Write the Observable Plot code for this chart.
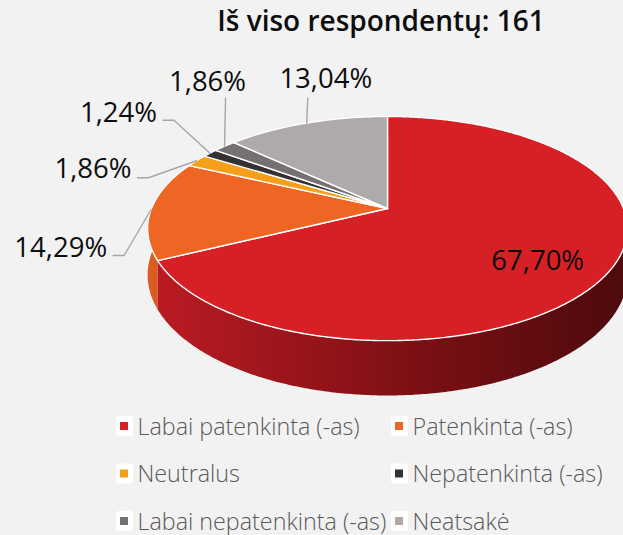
<!DOCTYPE html>
<html>
<head>
<meta charset="utf-8">
<script src="https://cdn.jsdelivr.net/npm/d3@7"></script>
<script src="https://cdn.jsdelivr.net/npm/@observablehq/plot@0.6"></script>
<style>
  html, body { margin: 0; padding: 0; background: #f2f2f2; }
  #chart svg { display: block; }
</style>
</head>
<body>
<div id="chart"></div>
<script>
// ---- data ----
const title = "Iš viso respondentų: 161";
const categories = ["Labai patenkinta (-as)", "Patenkinta (-as)", "Neutralus", "Nepatenkinta (-as)", "Labai nepatenkinta (-as)", "Neatsakė"];
const shares = [67.70, 14.29, 1.86, 1.24, 1.86, 13.04];
const colors = ["#d71f26", "#ef6523", "#f6a01a", "#333132", "#767171", "#aeaaaa"];

// ---- layout (pixel geometry of the 3D pie) ----
const W = 623, H = 535;
const CX = 387, CY = 208, S = 236, K = 108.5, P = 0.179, DEPTH = 45;
const labelLayout = [
  {inside: true, r: 0.70, dy: 19},
  {ex: -27, ey: 46, hx: -11, tx: -6, ty: 1, anchor: "end"},
  {ex: -48, ey: 17, hx: -11, tx: -6, ty: 0, anchor: "end"},
  {ex: -36, ey: -33, hx: -11, tx: -6, ty: 2, anchor: "end"},
  {ex: 1, ey: -48, hx: 0, tx: -18, ty: -7, anchor: "middle"},
  {ex: 1, ey: -25, hx: 0, tx: 18, ty: -10, anchor: "middle"}
];

function proj(a, r, h) {
  const X = r * Math.sin(a), Z = -r * Math.cos(a);
  const w = 1 - P * Z;
  return {x: CX + S * X / w, y: CY + (K * Z + h) / w};
}
function arc(a0, a1, r, h) {
  const n = Math.max(2, Math.ceil((a1 - a0) / (Math.PI / 360)));
  return d3.range(n + 1).map(i => proj(a0 + (a1 - a0) * i / n, r, h));
}

const arcs = d3.pie().sort(null).value(d => d)(shares);
const fmt = v => v.toFixed(2).replace(".", ",") + "%";

// polygons
const walls = arcs.map((p, i) => {
  const top = arc(p.startAngle, p.endAngle, 1, 0);
  const bot = arc(p.startAngle, p.endAngle, 1, DEPTH).reverse();
  const zmax = d3.max(top, (d, j) => -Math.cos(p.startAngle + (p.endAngle - p.startAngle) * j / (top.length - 1)));
  return {i, pts: top.concat(bot), zmax};
}).sort((a, b) => a.zmax - b.zmax);

const tops = arcs.map((p, i) => {
  const c = proj(0, 0, 0);
  return {i, pts: [c, ...arc(p.startAngle, p.endAngle, 1, 0), c]};
});

// labels
const leaders = [];
const labels = [];
arcs.forEach((p, i) => {
  const L = labelLayout[i];
  const mid = (p.startAngle + p.endAngle) / 2;
  if (L.inside) {
    const q = proj(mid, L.r, 0);
    labels.push({x: q.x, y: q.y + L.dy, text: fmt(shares[i]), anchor: "middle"});
  } else {
    const a = proj(mid, 1, 0);
    const e = {x: a.x + L.ex, y: a.y + L.ey};
    const f = {x: e.x + L.hx, y: e.y};
    leaders.push({k: i, ...a}, {k: i, ...e}, {k: i, ...f});
    labels.push({x: f.x + L.tx, y: f.y + L.ty, text: fmt(shares[i]), anchor: L.anchor});
  }
});

// legend
const legend = categories.map((c, i) => {
  const col = i % 2, row = Math.floor(i / 2);
  const sx = col === 0 ? 124 : 399;
  const sy = 426 + row * 47.5;
  return {name: c, color: colors[i], sx, sy, tx: sx + 13, ty: sy + 8};
});

const defs = () => {
  const g = d3.create("svg:defs");
  const lg = g.append("linearGradient").attr("id", "redside")
    .attr("gradientUnits", "userSpaceOnUse")
    .attr("x1", 150).attr("x2", 620).attr("y1", 0).attr("y2", 0);
  lg.append("stop").attr("offset", "0%").attr("stop-color", "#bd1b23");
  lg.append("stop").attr("offset", "55%").attr("stop-color", "#7d1015");
  lg.append("stop").attr("offset", "100%").attr("stop-color", "#4e0a0d");
  return g.node();
};

const wallColor = i => i === 0 ? "url(#redside)" : d3.color(colors[i]).darker(0.25).formatHex();

const marks = [
  defs,
  ...walls.map(w => Plot.line(w.pts, {x: "x", y: "y", fill: wallColor(w.i), stroke: "none"})),
  ...tops.map(t => Plot.line(t.pts, {x: "x", y: "y", fill: colors[t.i], stroke: "white", strokeWidth: 1.4, strokeLinejoin: "round"})),
  Plot.line(leaders, {x: "x", y: "y", z: "k", stroke: "#a6a6a6", strokeWidth: 1.4}),
  Plot.text(labels.filter(d => d.anchor === "end"), {x: "x", y: "y", text: "text", textAnchor: "end", lineAnchor: "bottom", fontSize: 27.5, fill: "#0d0d0d"}),
  Plot.text(labels.filter(d => d.anchor === "middle"), {x: "x", y: "y", text: "text", textAnchor: "middle", lineAnchor: "bottom", fontSize: 27.5, fill: "#0d0d0d"}),
  Plot.text([title], {frameAnchor: "top", dx: 69, dy: 11, text: d => d, lineAnchor: "top", fontSize: 28, fontWeight: 600, fill: "#0d0d0d"}),
  Plot.rect(legend, {x1: d => d.sx - 8, x2: d => d.sx + 9, y1: d => d.sy - 10, y2: d => d.sy + 10, fill: "white", rx: 3}),
  Plot.rect(legend, {x1: d => d.sx - 4, x2: d => d.sx + 4, y1: d => d.sy - 4, y2: d => d.sy + 4, fill: "color"}),
  Plot.text(legend, {x: "tx", y: "ty", text: "name", textAnchor: "start", lineAnchor: "bottom", fontSize: 23.3, fontWeight: 300, fill: "#595959"})
];

const chart = Plot.plot({
  width: W, height: H,
  margin: 0,
  x: {type: "linear", domain: [0, W], range: [0, W], axis: null},
  y: {type: "linear", domain: [0, H], range: [0, H], axis: null},
  color: {type: "identity"},
  style: {background: "#f2f2f2", fontFamily: "'Open Sans', sans-serif", overflow: "hidden"},
  marks
});
document.getElementById("chart").appendChild(chart);
</script>
</body>
</html>
